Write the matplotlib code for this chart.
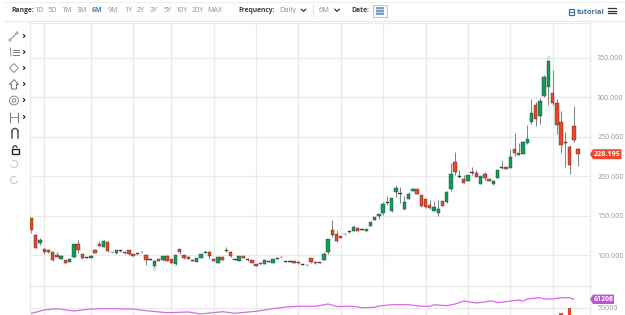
import matplotlib
matplotlib.use("Agg")
import matplotlib.pyplot as plt
from matplotlib.patches import Rectangle, Polygon, Circle, Arc

plt.rcParams['font.family'] = ['Open Sans', 'DejaVu Sans']

# Daily candles, oldest first
opens = [147,126,116,108.6,107.4,105,100,96,94,92,97.7,114,101.5,97.7,97.3,107,114.5,111,117.5,104.3,
         102.8,105.6,104.8,107,101.5,101.6,104,100,94.7,86.3,95.6,94,99.4,95.6,89,108,100,98,93.5,92,
         97,103.5,105,95,91,97.7,105.4,105,95.2,93.5,99,96,94,89,90.5,89.6,92.6,90.5,95.7,97.5,
         92.5,92.6,92.6,92,89,87.9,96.5,92,91.2,94.7,104.8,132.3,126.8,124.3,127.2,130,131.4,134.4,133.3,131.4,
         137.4,145.3,150,153.4,166.8,156.7,180.4,178.2,158.5,172,182,183.8,176.6,171.5,164,156.7,154,168.6,167.3,184.6,
         218.7,199.8,197,194.7,204.5,205,191,202.8,196.5,191,198.5,211.2,212,211,234.8,227.2,228.9,242.4,268.6,290.4,
         276,301.9,313.6,306,293.4,268.6,243,237.7,264.3,235]
highs = [148,127,122.5,109,108,106,105,100,94.5,96,115,119.6,102,98,100,108,118,119.5,118,105,
         107,106.7,105.5,107.5,102,102.3,104.8,100.5,95,93.8,96,99.8,100,96,100.8,108.5,100.5,99,93.8,97,
         102.3,107.5,105.5,95.3,98,98,111,105.5,95.5,99.3,99.3,96.3,94.3,89.3,90.8,94.3,92.9,96,96.4,98.3,
         92.8,92.9,93,92.4,89.5,88.2,97,92.3,91.5,104.8,120.8,145,132.3,125,127.5,131,138.6,134.7,133.6,133.8,
         143,149,152.3,168,175.7,172.6,189,187,175.6,180.8,186,184,177,172,170,169,170,169,181,217.5,
         230.7,208,201.5,202,211.6,208,200.3,206,197,195,208.3,220,212.5,234.5,255.5,242,244.3,264.8,297.7,294.6,
         299.7,328,347.8,334.7,297.7,283.3,256.7,240,289.7,235.7]
lows = [128,110,113,102,103.5,93,98,95.5,90.5,91.5,97,103.5,95,97,96.5,103,112,110.5,105,103.5,
        102.5,105,102.5,100.5,99.5,101.2,103.7,88,94,85.5,92.5,93.5,93,90.5,88,102,96,95,92.8,91.5,
        96.5,103,96,93,90.5,94.3,104,98.5,94.5,93.2,97,93.5,90.7,86.7,88.7,89.2,91.8,90,95.4,97,
        91.7,92,90.7,89.5,88.2,87.2,91,89.7,90.5,94.3,102,123.8,117.5,121.5,126.5,128.5,131,131,132.6,131,
        137,145,146,151.3,164,155,174.4,167,158,171,181.5,177.5,162,160,159,156,150,162.5,166.5,182,
        202,197.7,191.5,194.3,202,199.5,190.5,196,193.8,189,198,209,209.5,210.5,226,226.8,228.5,240.8,266.5,263.8,
        266.5,300.5,290.5,290.5,253.7,230,211.6,203,244,213.7]
closes = [132,110,120,104,104,94,98.5,99.4,91,95.6,114,107,97,97,99.4,103.5,112,118.7,105.7,103.8,
          106.6,106.3,103,102,99.8,102,104.4,94,94.3,93.4,93,99.4,93.4,91,100.6,104,96.5,95.6,93,96.5,
          102,104.5,99.5,93.5,97.7,94.7,107,99,94.8,99,97.3,94,91,87,89,94,92,95.6,96,97.7,
          92,92.3,91,90,88.5,87.5,91.5,90,90.8,102,120.5,125.6,118.7,121.8,126.8,129.5,136,131.4,132.8,133.5,
          142.8,148.7,152,164.8,166.4,172.4,185.8,177.8,168,177.5,183.8,177.9,163,161.8,159.6,161,159,163,180,202.8,
          206,199.5,192,201.5,205,199.8,200,197.7,194.3,194.7,208,211.6,210,224.3,230,229.8,244,247.5,280,272.8,
          295.5,326.3,345.6,292.7,265,239.5,242.6,214,245.8,228.195]

# Moving average of volume, sampled at a subset of candles
vol_avg_idx = [0,3,6,10,14,18,24,27,32,37,40,45,48,53,56,60,63,67,70,72,76,78,81,82,85,89,92,94,95,98,100,102,
               105,108,109,110,115,116,117,120,121,123,125,127,128]
vol_avg = [43170,47424,49100,46136,48712,49100,48712,46520,43950,44850,42270,45230,43170,45750,48330,51290,
           52190,52190,55150,51930,52190,50390,50900,52580,54250,54250,52190,52190,54250,52960,55150,59020,
           56440,58630,59020,56830,60300,59020,61590,63270,61590,61590,63270,63270,61208]

# Volume bars tall enough to rise above the bottom edge
vol_idx = [125, 127]
vol_values = [43560, 49600]

price_ticks = [100, 150, 200, 250, 300, 350]
month_starts = [3, 14, 24, 33, 43, 53, 63, 73, 83, 93, 103, 113, 123]
ranges = [("1D",39),("5D",52.5),("1M",67),("3M",82),("6M",97.5),("9M",112.7),("1Y",128.7),("2Y",141),
          ("3Y",154),("5Y",168),("10Y",181.7),("20Y",198),("MAX",215)]

W, H = 625, 315
UP, DOWN = '#0a9f58', '#ee4426'
GRID = '#ebebeb'
MAGENTA = '#d66be6'
TICK = '#969696'


def pane(left, top, right, bottom):
    return fig.add_axes([left / W, 1 - bottom / H, (right - left) / W, (bottom - top) / H])


fig = plt.figure(figsize=(W / 100, H / 100), dpi=100, facecolor='white')
xlim = (-0.47, 131.7)

ax = pane(29.5, 23, 589.5, 287)
ax.set_xlim(*xlim)
ax.set_ylim(60.1, 394.3)
ax.set_yticks(price_ticks, [f"{p:.3f}" for p in price_ticks])
ax.set_xticks(month_starts, [])

vax = pane(29.5, 287, 589.5, 315)
vax.set_xlim(*xlim)
vax.set_ylim(40984, 77048)
vax.set_yticks([50000], ["50000"])
vax.set_xticks(month_starts, [])

for a in (ax, vax):
    a.yaxis.tick_right()
    a.tick_params(axis='both', length=0, labelsize=5.0, labelcolor=TICK, pad=5.5)
    a.grid(True, color=GRID, lw=1.0)
    a.set_axisbelow(True)
    for name, spine in a.spines.items():
        spine.set_color(GRID)
        spine.set_linewidth(1.0)
    a.spines['bottom'].set_visible(a is ax)
    a.spines['top'].set_visible(a is ax)
ax.spines['bottom'].set_linewidth(1.8)
ax.spines['bottom'].set_color('#e2e2e2')

# Candles
for i, (o, h, l, c) in enumerate(zip(opens, highs, lows, closes)):
    up = c >= o
    ax.vlines(i, l, h, color='#858585', lw=0.75, zorder=2)
    flat = abs(c - o) < 1.0
    ax.bar(i, max(abs(c - o), 1.0), bottom=min(o, c), width=0.8,
           color='#4a4a4a' if flat else (UP if up else DOWN),
           edgecolor='#3a3a3a', linewidth=0.3, zorder=3)

# Small highest / lowest markers
hi_i = highs.index(max(highs))
lo_i = lows.index(min(lows))
ax.plot([hi_i], [max(highs) + 4], marker='^', ms=2.2, mfc='none', mec='#9fdcc0', mew=0.5, zorder=3)
ax.plot([lo_i], [min(lows) - 2], marker='v', ms=2.2, mfc='none', mec='#9fdcc0', mew=0.5, zorder=3)

# Volume pane
vax.plot(vol_avg_idx, vol_avg, color=MAGENTA, lw=0.9, zorder=3)
vax.bar(vol_idx, [v - 40984 for v in vol_values], bottom=40984, width=0.8, color=DOWN, zorder=2)

# Interface layer in pixel coordinates
ui = fig.add_axes([0, 0, 1, 1], zorder=10)
ui.set_xlim(0, W)
ui.set_ylim(H, 0)
ui.axis('off')
ui.patch.set_alpha(0)

ui.plot([5, W], [2, 2], color='#efefef', lw=0.8)
ui.plot([5, W], [20.5, 20.5], color='#e9e9e9', lw=0.8)

TXT = '#8f8f8f'
DARK = '#3d3d3d'
ui.text(11.5, 10, "Range:", fontsize=4.9, fontweight='bold', color=DARK, va='center')
for label, x in ranges:
    active = label == "6M"
    ui.text(x, 10, label, fontsize=5.1, ha='center', va='center',
            color='#3f87c4' if active else TXT, fontweight='bold' if active else 'normal')
ui.text(238, 10, "Frequency:", fontsize=4.9, fontweight='bold', color=DARK, va='center')
ui.text(279.3, 10, "Daily", fontsize=5.3, color=TXT, va='center')
ui.text(319, 10, "6M", fontsize=5.3, color=TXT, va='center')
ui.text(351, 10, "Date:", fontsize=4.9, fontweight='bold', color=DARK, va='center')
for cx in (303.5, 337):
    ui.plot([cx - 2.2, cx, cx + 2.2], [9.3, 11.3, 9.3], color='#333333', lw=0.9)
ui.plot([313, 313], [4, 16], color='#dddddd', lw=0.7)

# Calendar button
ui.add_patch(Rectangle((372.5, 4.5), 14, 12, fc='#f3f8fc', ec='#a8cbe6', lw=0.7))
ui.add_patch(Rectangle((375.5, 7), 8, 7.5, fc='#7aa0c2', ec='none'))
ui.plot([375.5, 383.5], [9, 9], color='white', lw=0.4)
ui.plot([375.5, 383.5], [11.5, 11.5], color='white', lw=0.4)

# Tutorial link and menu
ui.add_patch(Rectangle((568.5, 9), 5.5, 5.5, fc='none', ec='#3f6f9e', lw=0.9))
ui.plot([568.5, 574], [11.7, 11.7], color='#3f6f9e', lw=0.7)
ui.text(577, 12, "tutorial", fontsize=5.2, fontweight='bold', color='#3f6f9e', va='center')
for y in (8, 10.5, 13):
    ui.plot([608, 616], [y, y], color='#333333', lw=0.9)

# Drawing tools column
ICON = '#7a7a7a'
ui.plot([10, 17], [40, 33], color=ICON, lw=0.6)
ui.add_patch(Circle((10, 40), 1.1, fc='white', ec=ICON, lw=0.5, zorder=3))
ui.add_patch(Circle((17, 33), 1.1, fc='white', ec=ICON, lw=0.5, zorder=3))
for y in (49.5, 52, 54.5):
    ui.plot([13, 19], [y, y], color=ICON, lw=0.7)
ui.plot([10.5, 11], [48, 56], color=ICON, lw=0.6)
ui.add_patch(Polygon([(9.5, 68), (14, 63.5), (18.5, 68), (14, 72.5)], fc='none', ec=ICON, lw=0.6))
ui.add_patch(Polygon([(14, 79.5), (18.5, 84.5), (16.5, 84.5), (16.5, 89), (11.5, 89), (11.5, 84.5), (9.5, 84.5)],
                     fc='none', ec='#555555', lw=0.6))
ui.add_patch(Circle((14, 100.5), 4.4, fc='none', ec=ICON, lw=0.6))
ui.add_patch(Circle((14, 100.5), 1.8, fc='none', ec=ICON, lw=0.6))
ui.plot([9.5, 9.5], [112.5, 121.5], color=ICON, lw=0.8)
ui.plot([18, 18], [112.5, 121.5], color=ICON, lw=0.8)
ui.plot([9.5, 18], [117, 117], color=ICON, lw=0.6)
ui.add_patch(Arc((15, 132), 6.5, 7, theta1=180, theta2=360, ec='#555555', lw=1.1))
ui.plot([11.75, 11.75], [132, 137.5], color='#555555', lw=1.1)
ui.plot([18.25, 18.25], [132, 137.5], color='#555555', lw=1.1)
ui.add_patch(Rectangle((11.5, 149), 7, 4.5, fc='none', ec='#222222', lw=1.0))
ui.add_patch(Arc((15, 148.5), 4.5, 5.5, theta1=180, theta2=340, ec='#222222', lw=0.8))
ui.add_patch(Arc((14, 164), 7, 7, theta1=-120, theta2=170, ec='#c4c4c4', lw=0.7))
ui.add_patch(Arc((14, 180), 7, 7, theta1=10, theta2=300, ec='#c4c4c4', lw=0.7))
for y in (36, 52, 68, 84, 100, 117):
    ui.plot([23.5, 25, 23.5], [y - 1.4, y, y + 1.4], color='#222222', lw=0.8)


def value_tag(y, x1, half, color, label, size):
    ui.add_patch(Polygon([(590, y), (593, y - half), (x1, y - half), (x1, y + half), (593, y + half)],
                         fc=color, ec='none'))
    ui.text((593 + x1) / 2, y, label, fontsize=size, fontweight='bold', color='white',
            ha='center', va='center')


# Last price and last volume average tags
last_y = H - ax.transData.transform((0, closes[-1]))[1]
value_tag(last_y, 621.5, 5, '#ee4a2e', f"{closes[-1]:.3f}", 5.2)
vol_y = H - vax.transData.transform((0, vol_avg[-1]))[1]
value_tag(vol_y, 614, 4.7, '#bb55d6', f"{vol_avg[-1]}", 5.0)

fig.savefig('out.png', dpi=100)
